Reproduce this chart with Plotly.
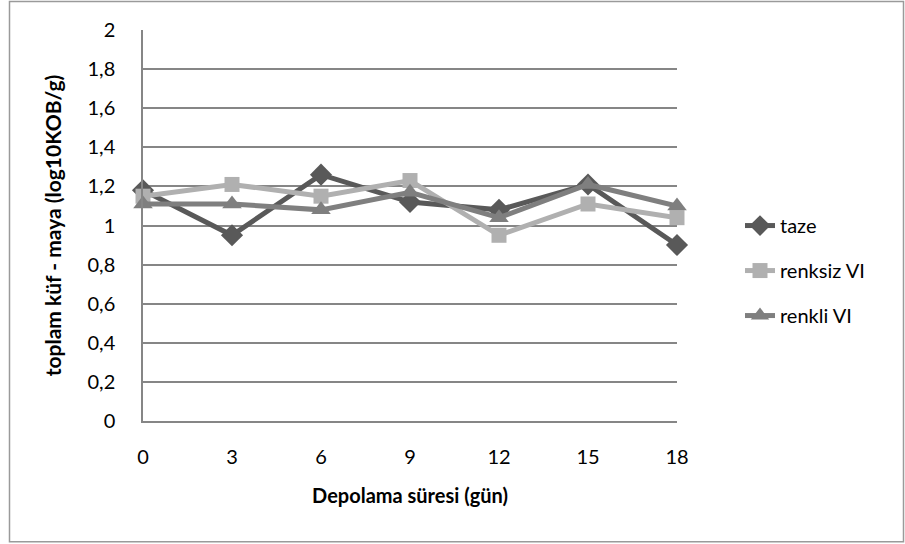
import plotly.graph_objects as go

days = [0, 3, 6, 9, 12, 15, 18]
taze = [1.18, 0.95, 1.26, 1.12, 1.08, 1.21, 0.90]
renksiz = [1.15, 1.21, 1.15, 1.23, 0.95, 1.11, 1.04]
renkli = [1.11, 1.11, 1.08, 1.17, 1.04, 1.21, 1.10]
y_ticks = [0, 0.2, 0.4, 0.6, 0.8, 1.0, 1.2, 1.4, 1.6, 1.8, 2.0]

FONT = "Lato"
series = [
    ("taze", taze, "#595959", "diamond", 17),
    ("renksiz VI", renksiz, "#b0b0b0", "square", 15),
    ("renkli VI", renkli, "#7f7f7f", "triangle-up", 17),
]

fig = go.Figure()
for i, (name, vals, col, sym, sz) in enumerate(series):
    fig.add_trace(go.Scatter(
        x=days, y=vals, name=name, mode="lines+markers",
        line=dict(color=col, width=5),
        marker=dict(symbol=sym, size=sz, color=col, line=dict(width=0)),
        legendgroup=str(i), cliponaxis=False,
    ))

W, H = 905, 544
L, R, T, B = 143, 677, 29.5, 421.5
pw, ph = R - L, B - T

def px(x):
    return (x - L) / pw

def py(y):
    return (B - y) / ph

fig.add_shape(type="rect", xref="paper", yref="paper",
              x0=px(9.5), x1=px(903.5), y0=py(542.5), y1=py(1),
              line=dict(color="#9a9a9a", width=1.5), layer="below")

fig.update_layout(
    width=W, height=H,
    margin=dict(l=L, r=W - R, t=T, b=H - B),
    paper_bgcolor="white", plot_bgcolor="white",
    separators=", ",
    font=dict(family=FONT, size=20, color="#000000"),
    showlegend=True,
    legend=dict(x=px(740), y=py(206), xanchor="left", yanchor="top",
                font=dict(family=FONT, size=20, color="#000000"),
                tracegroupgap=16, itemwidth=30, bgcolor="rgba(0,0,0,0)"),
    xaxis=dict(range=[0, 18], tickvals=days, ticktext=[str(d) for d in days],
               showgrid=False, zeroline=False, showline=True,
               linecolor="#868686", linewidth=1.5, ticks="",
               ticklabelstandoff=17,
               tickfont=dict(family=FONT, size=20),
               title=dict(text="<b>Depolama süresi (gün)</b>", standoff=22,
                          font=dict(family=FONT, size=20))),
    yaxis=dict(range=[0, 2], tickvals=y_ticks, tickformat="~g",
               showgrid=True, gridcolor="#868686", gridwidth=1.5,
               zeroline=False, showline=True, linecolor="#868686",
               linewidth=1.5, ticks="", ticklabelstandoff=22,
               tickfont=dict(family=FONT, size=20),
               title=dict(text="<b>toplam küf - maya (log10KOB/g)</b>",
                          standoff=20, font=dict(family=FONT, size=21))),
)

fig.write_html("out.html")
